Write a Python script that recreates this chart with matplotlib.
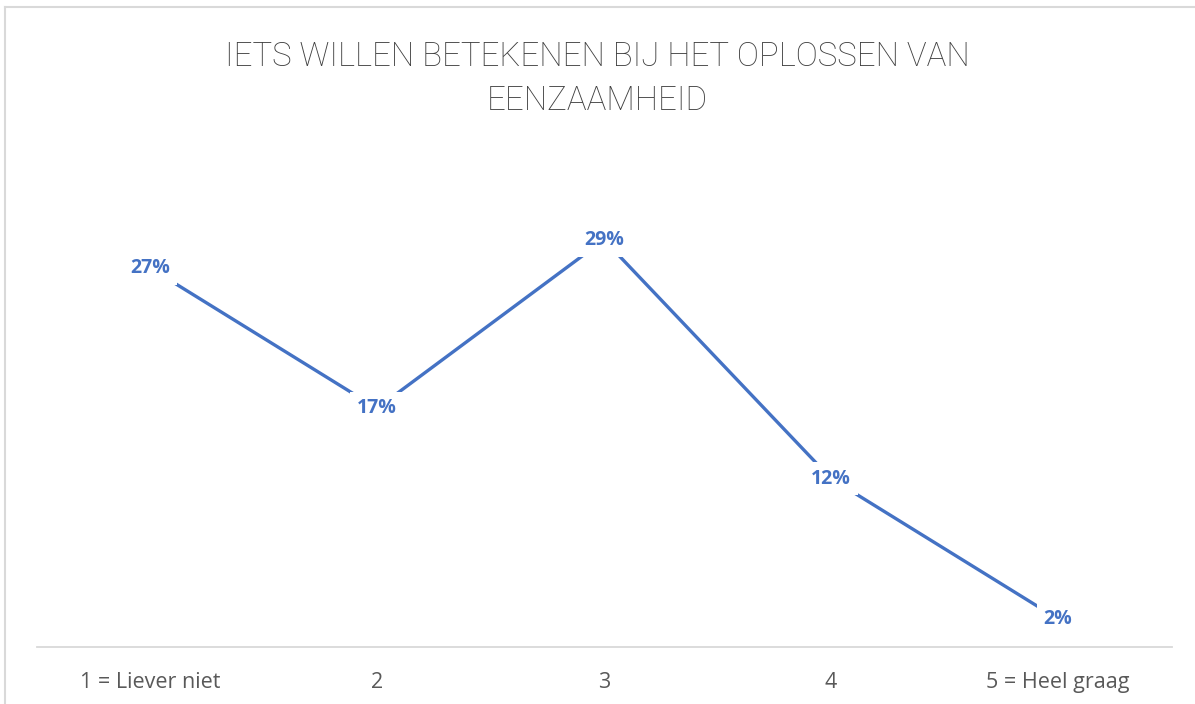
import matplotlib
matplotlib.use("Agg")
import matplotlib.pyplot as plt
from matplotlib.lines import Line2D

categories = ["1 = Liever niet", "2", "3", "4", "5 = Heel graag"]
values = [27, 17, 29, 12, 2]
labels = ["27%", "17%", "29%", "12%", "2%"]
title = "IETS WILLEN BETEKENEN BIJ HET OPLOSSEN VAN\nEENZAAMHEID"

W, H = 1195, 704
fig = plt.figure(figsize=(W / 100, H / 100), dpi=100)
fig.patch.set_facecolor("white")

# outer frame (left and top edges)
fig.add_artist(Line2D([5 / W, 5 / W], [0, 1 - 7 / H], color="#d9d9d9", lw=1.5))
fig.add_artist(Line2D([5 / W, 1], [1 - 7 / H, 1 - 7 / H], color="#d9d9d9", lw=1.5))

left, right = 36.5, 1171.5
bottom_px = 647
ymax = 35
top_px = bottom_px - ymax * 14.04
ax = fig.add_axes([left / W, 1 - bottom_px / H, (right - left) / W, (bottom_px - top_px) / H])
ax.set_facecolor("none")

x = list(range(len(categories)))
blue = "#4472C4"
ax.plot(x, values, color=blue, lw=2.4, solid_capstyle="butt", zorder=2)
for xi, v, lab in zip(x, values, labels):
    ax.text(xi, v, lab, ha="center", va="center", color=blue, fontsize=14,
            fontweight="bold", family=["Open Sans", "DejaVu Sans"], zorder=3,
            bbox=dict(boxstyle="square,pad=0.35", fc="white", ec="none"))

ax.set_xlim(-0.5, len(categories) - 0.5)
ax.set_ylim(0, ymax)
for s in ["top", "right", "left"]:
    ax.spines[s].set_visible(False)
ax.spines["bottom"].set_color("#d9d9d9")
ax.spines["bottom"].set_linewidth(1.3)
ax.set_yticks([])
ax.set_xticks(x)
ax.set_xticklabels(categories, color="#595959", fontsize=15.5, family=["Open Sans", "DejaVu Sans"])
ax.tick_params(axis="x", length=0, pad=18)

fig.text(0.5, 1 - 79 / H, title, ha="center", va="center", color="#3f3f3f",
         fontsize=23.8, fontweight="light", family=["Roboto", "DejaVu Sans"],
         linespacing=1.5)

fig.savefig("out.png", dpi=100)
